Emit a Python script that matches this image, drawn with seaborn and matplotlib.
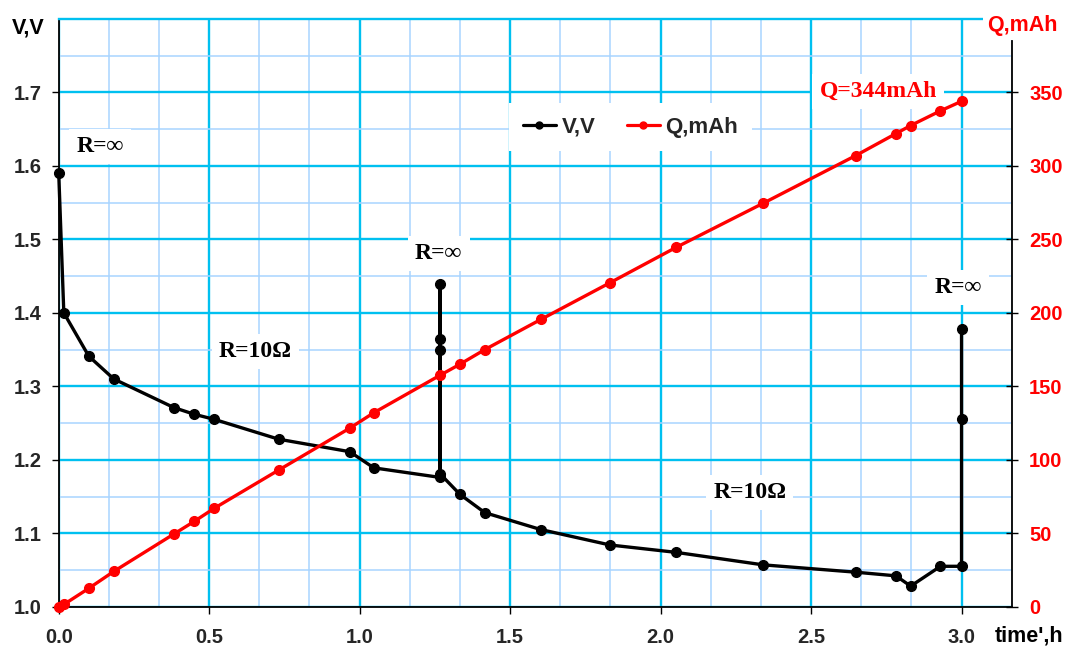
import matplotlib
matplotlib.use("Agg")
import matplotlib.pyplot as plt
from matplotlib.ticker import MultipleLocator, FormatStrFormatter
from matplotlib.lines import Line2D
import seaborn as sns
import pandas as pd

# ---- data ----
t_V = [0.0, 0.017, 0.10, 0.183, 0.383, 0.45, 0.517, 0.731, 0.967, 1.047,
       1.267, 1.267, 1.267, 1.267, 1.267, 1.333, 1.416, 1.602, 1.832, 2.051,
       2.34, 2.648, 2.782, 2.831, 2.93, 3.0, 3.0, 3.0]
V = [1.591, 1.400, 1.341, 1.310, 1.271, 1.262, 1.255, 1.228, 1.211, 1.189,
     1.176, 1.350, 1.365, 1.439, 1.181, 1.153, 1.128, 1.105, 1.084, 1.074,
     1.057, 1.047, 1.042, 1.028, 1.055, 1.055, 1.255, 1.378]

t_Q = [0.0, 0.017, 0.10, 0.183, 0.383, 0.45, 0.517, 0.731, 0.967, 1.047,
       1.267, 1.333, 1.416, 1.602, 1.832, 2.051, 2.34, 2.648, 2.782, 2.831,
       2.93, 3.0]
Q = [0, 1.5, 12.5, 24, 49.5, 58, 67, 93, 121.5, 132,
     157.5, 165, 175, 195.5, 220.5, 244.5, 274.5, 307, 322, 327.5,
     337.5, 344]

v_ticks = [1.0, 1.1, 1.2, 1.3, 1.4, 1.5, 1.6, 1.7]
q_ticks = [0, 50, 100, 150, 200, 250, 300, 350]
x_ticks = [0.0, 0.5, 1.0, 1.5, 2.0, 2.5, 3.0]

annotations = [("R=\u221e", 0.137, 1.626, "black"),
               ("R=10\u03a9", 0.654, 1.347, "black"),
               ("R=\u221e", 1.263, 1.481, "black"),
               ("R=10\u03a9", 2.296, 1.155, "black"),
               ("R=\u221e", 2.988, 1.435, "black"),
               ("Q=344mAh", 2.723, 1.701, "red")]

dfV = pd.DataFrame({"t": t_V, "V": V})
dfQ = pd.DataFrame({"t": t_Q, "Q": Q})

sns.set_style("white")
plt.rcParams["font.family"] = ["Liberation Sans", "DejaVu Sans"]
plt.rcParams["font.weight"] = "bold"

W, H = 1065, 648
fig = plt.figure(figsize=(W / 100, H / 100), dpi=100)
left, right, bottom, top = 58.7, 1011.7, 606.7, 19.0
ax1 = fig.add_axes([left / W, 1 - bottom / H, (right - left) / W, (bottom - top) / H])
ax2 = ax1.twinx()

MAJ = "#00C0F0"
MIN = "#A8D4FF"

sns.lineplot(data=dfV, x="t", y="V", sort=False, estimator=None, ax=ax1,
             color="black", lw=2.4, marker="o", markersize=7,
             markeredgecolor="black", markeredgewidth=1, legend=False,
             zorder=4, clip_on=False)
sns.lineplot(data=dfQ, x="t", y="Q", sort=False, estimator=None, ax=ax2,
             color="red", lw=2.4, marker="o", markersize=7,
             markeredgecolor="red", markeredgewidth=1, legend=False,
             zorder=4, clip_on=False)

ax1.set_xlim(0, 19 / 6)
ax1.set_ylim(1.0, 1.8)
ax2.set_ylim(0, 400)

ax1.set_xticks(x_ticks)
ax1.xaxis.set_major_formatter(FormatStrFormatter("%.1f"))
ax1.xaxis.set_minor_locator(MultipleLocator(1 / 6))
ax1.set_yticks(v_ticks)
ax1.yaxis.set_major_formatter(FormatStrFormatter("%.1f"))
ax1.yaxis.set_minor_locator(MultipleLocator(0.05))
ax2.set_yticks(q_ticks)

ax1.grid(which="minor", color=MIN, lw=1.1, zorder=0)
ax1.grid(which="major", color=MAJ, lw=1.7, zorder=0)
ax1.set_axisbelow(True)

ax1.tick_params(axis="both", which="minor", length=0)
ax1.tick_params(axis="x", which="major", direction="out", length=5, width=1,
                color="black", pad=10, labelsize=14.5, bottom=True)
ax1.tick_params(axis="y", which="major", direction="out", length=5, width=1,
                color="black", pad=7, labelsize=14.5, left=True)
ax2.tick_params(axis="y", which="major", direction="inout", length=9, width=1,
                color="black", pad=8, labelsize=14.5, labelcolor="red", right=True)

for lab in ax1.get_xticklabels() + ax1.get_yticklabels() + ax2.get_yticklabels():
    lab.set_fontweight("bold")

ax1.set_xlabel("")
ax1.set_ylabel("")
ax2.set_ylabel("")

for s in ["left", "bottom"]:
    ax1.spines[s].set_color("black")
    ax1.spines[s].set_linewidth(1.3)
ax1.spines["right"].set_visible(False)
ax1.spines["top"].set_color(MAJ)
ax1.spines["top"].set_linewidth(1.7)
for s in ["left", "bottom", "top"]:
    ax2.spines[s].set_visible(False)
ax2.spines["right"].set_color("black")
ax2.spines["right"].set_linewidth(1.3)
ax2.spines["right"].set_bounds(0, 385)

for txt, x, y, c in annotations:
    ax1.text(x, y, txt, color=c, ha="center", va="center", fontsize=17,
             fontweight="bold", family=["Liberation Serif", "DejaVu Serif"],
             zorder=6,
             bbox=dict(boxstyle="square,pad=0.3", fc="white", ec="none"))

fig.text(11.7 / W, 1 - 27.7 / H, "V,V", ha="left", va="center",
         fontsize=15.5, fontweight="bold", color="black")
fig.text(987 / W, 1 - 25 / H, "Q,mAh", ha="left", va="center",
         fontsize=15.5, fontweight="bold", color="red",
         bbox=dict(boxstyle="square,pad=0.2", fc="white", ec="none"))
fig.text(995 / W, 1 - 636 / H, "time',h", ha="left", va="center",
         fontsize=15.5, fontweight="bold", color="black")

handles = [Line2D([], [], color="black", lw=2.3, marker="o", markersize=5),
           Line2D([], [], color="red", lw=2.3, marker="o", markersize=5)]
leg = ax2.legend(handles, ["V,V", "Q,mAh"], loc="center",
                 bbox_to_anchor=(0.6, 0.816), ncol=2, frameon=True,
                 fancybox=False, edgecolor="none", facecolor="white",
                 framealpha=1, handlelength=1.5, handletextpad=0.25,
                 columnspacing=1.4, borderpad=0.6,
                 prop={"weight": "bold", "size": 16})
leg.set_zorder(10)

fig.savefig("out.png", dpi=100, facecolor="white")
